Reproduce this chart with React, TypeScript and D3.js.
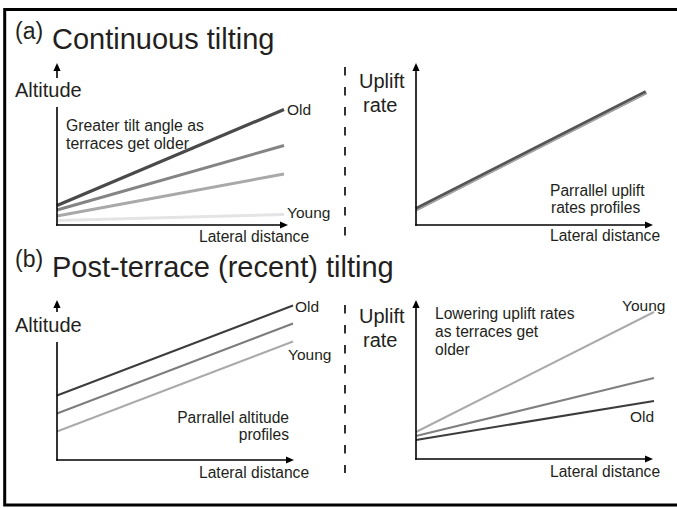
import React from "react";
import * as d3 from "d3";

// ---- data (arbitrary units: lateral distance 0-100, altitude / uplift 0-100) ----
const distance = [0, 100];

// (a) continuous tilting - altitude profiles
const aAltitudeOld = [13, 77];
const aAltitudeMid = [10, 53];
const aAltitudeLow = [6, 34];
const aAltitudeYoung = [3, 7];

// (a) uplift-rate profiles (parallel)
const bUpliftOld = [10.6, 88.6];
const bUpliftYoung = [9.6, 87.6];

// (b) post-terrace tilting - altitude profiles (parallel)
const cAltitudeOld = [43, 103];
const cAltitudeMid = [31, 91];
const cAltitudeYoung = [19, 79];

// (b) uplift rates
const dUpliftOld = [12.7, 38.7];
const dUpliftMid = [15.3, 54];
const dUpliftYoung = [18, 98];

const FONT = "Liberation Sans, Arial, Helvetica, sans-serif";
const TXT = "#231f20";

type Series = { values: number[]; color: string; width: number; dy?: number };
type Panel = {
  x0: number; xLineEnd: number; xAxisEnd: number;
  y0: number; yTop: number; gap?: [number, number];
  series: Series[];
};

function PanelView({ p }: { p: Panel }) {
  const x = d3.scaleLinear().domain([0, 100]).range([p.x0, p.xLineEnd]);
  const y = d3.scaleLinear().domain([0, 100]).range([p.y0, p.y0 - 150]);
  const line = d3.line<[number, number]>().x((d) => x(d[0])).y((d) => y(d[1]));
  const ah = 8, aw = 3.6;
  return (
    <g>
      {p.series.map((s, i) => (
        <path
          key={i}
          d={line(distance.map((dv, j) => [dv, s.values[j]] as [number, number])) || ""}
          transform={s.dy ? `translate(0,${s.dy})` : undefined}
          fill="none"
          stroke={s.color}
          strokeWidth={s.width}
        />
      ))}
      {/* y axis */}
      {p.gap ? (
        <>
          <line x1={p.x0} x2={p.x0} y1={p.yTop + 4} y2={p.gap[0]} stroke="#000" strokeWidth={1.6} />
          <line x1={p.x0} x2={p.x0} y1={p.gap[1]} y2={p.y0 + 0.8} stroke="#000" strokeWidth={1.6} />
        </>
      ) : (
        <line x1={p.x0} x2={p.x0} y1={p.yTop + 4} y2={p.y0 + 0.8} stroke="#000" strokeWidth={1.6} />
      )}
      <path d={`M${p.x0},${p.yTop}L${p.x0 - aw},${p.yTop + ah}L${p.x0 + aw},${p.yTop + ah}Z`} fill="#000" />
      {/* x axis */}
      <line x1={p.x0 - 0.8} x2={p.xAxisEnd - 4} y1={p.y0} y2={p.y0} stroke="#000" strokeWidth={1.6} />
      <path d={`M${p.xAxisEnd},${p.y0}L${p.xAxisEnd - ah},${p.y0 - aw}L${p.xAxisEnd - ah},${p.y0 + aw}Z`} fill="#000" />
    </g>
  );
}

const panels: Panel[] = [
  {
    x0: 57, xLineEnd: 284, xAxisEnd: 288, y0: 225, yTop: 63, gap: [78, 107],
    series: [
      { values: aAltitudeYoung, color: "#e4e4e4", width: 3 },
      { values: aAltitudeLow, color: "#a9a9a9", width: 3 },
      { values: aAltitudeMid, color: "#848484", width: 3 },
      { values: aAltitudeOld, color: "#4a4a4a", width: 3.2 },
    ],
  },
  {
    x0: 416, xLineEnd: 646, xAxisEnd: 653, y0: 225, yTop: 63,
    series: [
      { values: bUpliftOld, color: "#555555", width: 4 },
      { values: bUpliftYoung, color: "#a9a9a9", width: 1.6 },
    ],
  },
  {
    x0: 57, xLineEnd: 293, xAxisEnd: 294, y0: 460, yTop: 300, gap: [312, 342],
    series: [
      { values: cAltitudeYoung, color: "#aaaaaa", width: 2 },
      { values: cAltitudeMid, color: "#7c7c7c", width: 2 },
      { values: cAltitudeOld, color: "#3c3c3c", width: 2 },
    ],
  },
  {
    x0: 416, xLineEnd: 654, xAxisEnd: 653, y0: 459, yTop: 300,
    series: [
      { values: dUpliftYoung, color: "#aaaaaa", width: 2 },
      { values: dUpliftMid, color: "#808080", width: 2 },
      { values: dUpliftOld, color: "#3c3c3c", width: 2 },
    ],
  },
];

function T({ x, y, s, size, anchor }: { x: number; y: number; s: string; size: number; anchor?: string }) {
  return (
    <text x={x} y={y} fontSize={size} fill={TXT} fontFamily={FONT} textAnchor={anchor || "start"}>
      {s}
    </text>
  );
}

export default function App() {
  return (
    <svg
      width={677}
      height={508}
      viewBox="0 0 677 508"
      style={{ position: "absolute", left: 0, top: 0, background: "#fff" }}
    >
      <rect x={0} y={0} width={677} height={508} fill="#fff" />
      <rect x={4.7} y={9.5} width={700} height={495.5} fill="none" stroke="#000" strokeWidth={3} />

      {/* titles */}
      <T x={15} y={39} s="(a)" size={23} />
      <T x={52} y={48.5} s="Continuous tilting" size={29} />
      <T x={15} y={267} s="(b)" size={23} />
      <T x={52} y={276.5} s="Post-terrace (recent) tilting" size={29} />

      {/* dashed separators */}
      <line x1={345} x2={345} y1={67} y2={238} stroke="#000" strokeWidth={1.6} strokeDasharray="8.5,11.5" />
      <line x1={345} x2={345} y1={305} y2={473} stroke="#000" strokeWidth={1.6} strokeDasharray="8.5,11.5" />

      {panels.map((p, i) => (
        <PanelView key={i} p={p} />
      ))}

      {/* panel (a) left */}
      <T x={15} y={97} s="Altitude" size={20} />
      <T x={66} y={131} s="Greater tilt angle as" size={15.8} />
      <T x={66} y={149} s="terraces get older" size={15.8} />
      <T x={287} y={115} s="Old" size={15.5} />
      <T x={287} y={218} s="Young" size={15.5} />
      <T x={199} y={242} s="Lateral distance" size={15.6} />

      {/* panel (a) right */}
      <T x={359} y={88} s="Uplift" size={20} />
      <T x={363} y={112} s="rate" size={20} />
      <T x={550} y={196} s="Parrallel uplift" size={15.6} />
      <T x={551} y={213} s="rates profiles" size={15.6} />
      <T x={550} y={241} s="Lateral distance" size={15.6} />

      {/* panel (b) left */}
      <T x={15} y={332} s="Altitude" size={20} />
      <T x={295} y={311.5} s="Old" size={15.5} />
      <T x={288} y={360} s="Young" size={15.5} />
      <T x={289} y={423} s="Parrallel altitude" size={15.6} anchor="end" />
      <T x={289} y={440} s="profiles" size={15.6} anchor="end" />
      <T x={199} y={478} s="Lateral distance" size={15.6} />

      {/* panel (b) right */}
      <T x={359} y={323} s="Uplift" size={20} />
      <T x={363} y={347} s="rate" size={20} />
      <T x={435} y={319} s="Lowering uplift rates" size={15.6} />
      <T x={435} y={337} s="as terraces get" size={15.6} />
      <T x={435} y={355} s="older" size={15.6} />
      <T x={622} y={311} s="Young" size={15.5} />
      <T x={630} y={422} s="Old" size={15.5} />
      <T x={550} y={477} s="Lateral distance" size={15.6} />
    </svg>
  );
}
